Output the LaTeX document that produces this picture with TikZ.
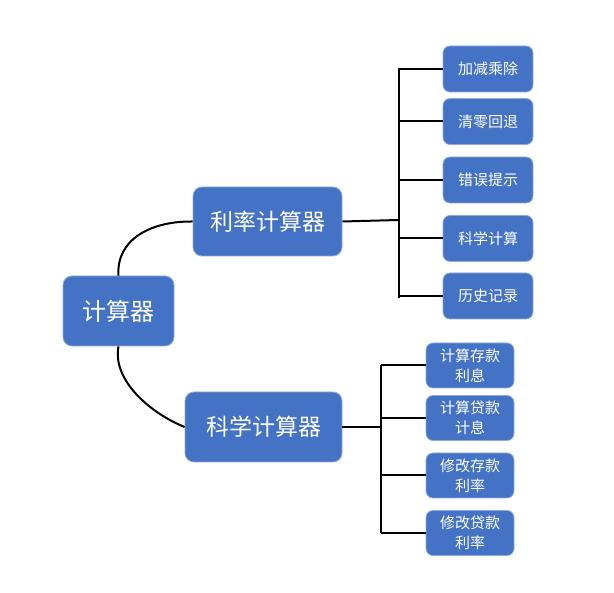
\documentclass[tikz,border=0pt]{standalone}
\usepackage{fontspec}
\setmainfont{Noto Sans CJK SC}
\definecolor{boxblue}{HTML}{4472C4}
\definecolor{boxedge}{HTML}{8FAADC}
\begin{document}
\begin{tikzpicture}[x=1pt,y=-1pt,
  box/.style={draw=boxedge,line width=0.8pt,fill=boxblue,text=white,rounded corners=9pt,align=center,inner sep=0pt},
  bigbox/.style={box,font=\fontsize{23}{26}\selectfont},
  leaf/.style={box,rounded corners=7pt,font=\fontsize{15}{20}\selectfont},
  conn/.style={line width=2pt,black}]
\useasboundingbox (0,0) rectangle (614,593);
\node[bigbox,minimum width=111pt,minimum height=70pt,font=\fontsize{24}{28}\selectfont] (root) at (118.5,311) {计算器};
\node[bigbox,minimum width=149pt,minimum height=69pt] (lilv) at (267.5,221.5) {利率计算器};
\node[bigbox,minimum width=157pt,minimum height=70pt] (kexue) at (263.5,427) {科学计算器};
% top leaves
\node[leaf,minimum width=90pt,minimum height=46pt] (a1) at (488,69) {加减乘除};
\node[leaf,minimum width=90pt,minimum height=46pt] (a2) at (488,121.5) {清零回退};
\node[leaf,minimum width=90pt,minimum height=46pt] (a3) at (488,180) {错误提示};
\node[leaf,minimum width=90pt,minimum height=46pt] (a4) at (488,238.5) {科学计算};
\node[leaf,minimum width=90pt,minimum height=46pt] (a5) at (488,296) {历史记录};
% bottom leaves
\node[leaf,minimum width=88pt,minimum height=45pt] (b1) at (470,365.5) {计算存款\\利息};
\node[leaf,minimum width=88pt,minimum height=45pt] (b2) at (470,418) {计算贷款\\计息};
\node[leaf,minimum width=88pt,minimum height=45pt] (b3) at (470,475.5) {修改存款\\利率};
\node[leaf,minimum width=88pt,minimum height=45pt] (b4) at (470,533) {修改贷款\\利率};
% curved connectors
\draw[conn] (root.north) .. controls (116,240) and (150,221) .. (lilv.west);
\draw[conn] (root.south) .. controls (112,380) and (150,413) .. (kexue.west);
% top bracket
\coordinate (tj) at (398.5,220);
\coordinate (ttop) at (398.5,68);
\coordinate (tbot) at (398.5,298);
\draw[conn] (lilv.east) -- (tj);
\draw[conn] (ttop) -- (tbot);
\foreach \n in {a1,a2,a3,a4,a5} \draw[conn] (\n.west) -- (\n.west -| ttop);
% bottom bracket
\coordinate (bj) at (381,427);
\coordinate (btop) at (381,365);
\coordinate (bbot) at (381,533);
\draw[conn] (kexue.east) -- (bj);
\draw[conn] (btop) -- (bbot);
\foreach \n in {b1,b2,b3,b4} \draw[conn] (\n.west) -- (\n.west -| btop);
\end{tikzpicture}
\end{document}
